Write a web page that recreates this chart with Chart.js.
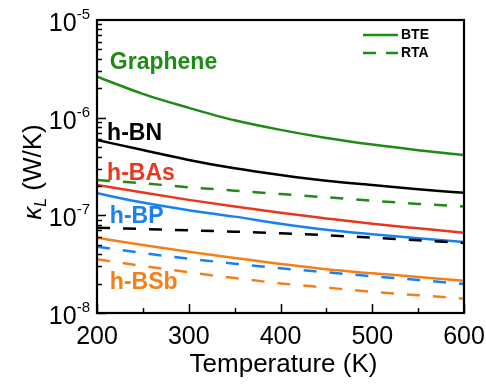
<!DOCTYPE html>
<html>
<head>
<meta charset="utf-8">
<script src="https://cdn.jsdelivr.net/npm/chart.js@4.4.1/dist/chart.umd.min.js"></script>
<style>
    html, body { margin: 0; padding: 0; background: #fff; }
</style>
</head>
<body>
<canvas id="chart" width="486" height="384"></canvas>
<script>
// Temperatures (K)
var temps = [200, 250, 300, 350, 400, 450, 500, 550, 600];

// Lattice thermal conductance (W/K), BTE = full solution, RTA = relaxation time approx.
var grapheneBTE = [2.63e-6, 1.75e-6, 1.26e-6, 9.4e-7, 7.5e-7, 6.2e-7, 5.3e-7, 4.65e-7, 4.15e-7];
var grapheneRTA = [2.3e-7, 2.13e-7, 1.94e-7, 1.79e-7, 1.65e-7, 1.53e-7, 1.41e-7, 1.31e-7, 1.23e-7];
var hBNBTE = [5.9e-7, 4.67e-7, 3.69e-7, 3.03e-7, 2.59e-7, 2.26e-7, 2.05e-7, 1.85e-7, 1.7e-7];
var hBNRTA = [7.46e-8, 7.24e-8, 7.03e-8, 6.8e-8, 6.55e-8, 6.25e-8, 5.9e-8, 5.55e-8, 5.21e-8];
var hBAsBTE = [2.05e-7, 1.71e-7, 1.44e-7, 1.23e-7, 1.06e-7, 9.3e-8, 8.2e-8, 7.36e-8, 6.64e-8];
var hBPBTE = [1.68e-7, 1.35e-7, 1.13e-7, 9.7e-8, 8.2e-8, 7.1e-8, 6.4e-8, 5.82e-8, 5.33e-8];
var hBPRTA = [4.78e-8, 4.11e-8, 3.6e-8, 3.2e-8, 2.87e-8, 2.61e-8, 2.38e-8, 2.18e-8, 1.98e-8];
var hBSbBTE = [5.9e-8, 4.97e-8, 4.24e-8, 3.66e-8, 3.18e-8, 2.8e-8, 2.55e-8, 2.34e-8, 2.14e-8];
var hBSbRTA = [3.55e-8, 3.03e-8, 2.61e-8, 2.28e-8, 2.01e-8, 1.82e-8, 1.65e-8, 1.52e-8, 1.4e-8];

// Axis ticks
var xMajor = [200, 300, 400, 500, 600];
var xMinor = [250, 350, 450, 550];
var yPowers = [-8, -7, -6, -5];

// Material labels inside the plot: [text, T, kappa]
var labels = [
    ['Graphene', 214, 3.65e-6],
    ['h-BN', 211, 6.9e-7],
    ['h-BAs', 211, 2.7e-7],
    ['h-BP', 214, 9.8e-8],
    ['h-BSb', 214, 2.05e-8]
];

var GREEN = '#1f8a14';
var BLACK = '#000000';
var RED = '#e8381c';
var BLUE = '#1a7ff0';
var ORANGE = '#f57f17';
var labelColors = [GREEN, BLACK, RED, BLUE, ORANGE];
var DASH = [13, 13];
var FONT = '"Liberation Sans", Arial, sans-serif';

function line(data, color, dashed) {
    return {
        data: data,
        borderColor: color,
        borderWidth: 2.5,
        borderDash: dashed ? DASH : [],
        pointRadius: 0,
        fill: false,
        cubicInterpolationMode: 'monotone'
    };
}

// Frame, inward ticks, tick labels, titles, legend and in-plot labels
var decorations = {
    id: 'decorations',
    afterDraw: function(chart) {
        var ctx = chart.ctx;
        var a = chart.chartArea;
        var x = chart.scales.x;
        var y = chart.scales.y;
        ctx.save();

        ctx.strokeStyle = '#000';
        ctx.lineWidth = 2.2;
        ctx.strokeRect(a.left, a.top, a.right - a.left, a.bottom - a.top);

        ctx.lineWidth = 1.5;
        ctx.beginPath();
        xMajor.forEach(function(t) {
            var px = Math.round(x.getPixelForValue(t)) + 0.5;
            ctx.moveTo(px, a.bottom); ctx.lineTo(px, a.bottom - 9);
        });
        xMinor.forEach(function(t) {
            var px = Math.round(x.getPixelForValue(t)) + 0.5;
            ctx.moveTo(px, a.bottom); ctx.lineTo(px, a.bottom - 5);
        });
        for (var p = -8; p < -5; p++) {
            for (var m = 1; m < 10; m++) {
                var py = Math.round(y.getPixelForValue(m * Math.pow(10, p))) + 0.5;
                ctx.moveTo(a.left, py); ctx.lineTo(a.left + (m === 1 ? 9 : 5), py);
            }
        }
        ctx.stroke();

        // x tick labels
        ctx.fillStyle = '#000';
        ctx.font = '25px ' + FONT;
        ctx.textAlign = 'center';
        ctx.textBaseline = 'alphabetic';
        xMajor.forEach(function(t) {
            ctx.fillText(String(t), x.getPixelForValue(t), a.bottom + 31);
        });

        // y tick labels 10^n
        yPowers.forEach(function(p) {
            var py = y.getPixelForValue(Math.pow(10, p));
            var sup = '-' + Math.abs(p);
            ctx.font = '15px ' + FONT;
            var sw = ctx.measureText(sup).width;
            var right = a.left - 7;
            ctx.textAlign = 'left';
            ctx.fillText(sup, right - sw, py - 1);
            ctx.font = '25px ' + FONT;
            ctx.textAlign = 'right';
            ctx.fillText('10', right - sw, py + 11);
        });

        // x title
        ctx.font = '26px ' + FONT;
        ctx.textAlign = 'center';
        ctx.fillText('Temperature (K)', (a.left + a.right) / 2 + 3, a.bottom + 59);

        // y title: kappa_L (W/K)
        var big = '26px ' + FONT;
        var kap = 'italic 26px ' + FONT;
        var sub = 'italic 16px ' + FONT;
        ctx.font = kap; var w1 = ctx.measureText('\u03ba').width;
        ctx.font = sub; var w2 = ctx.measureText('L').width;
        ctx.font = big; var w3 = ctx.measureText(' (W/K)').width;
        var total = w1 + w2 + w3;
        ctx.save();
        ctx.translate(41, 172 + total / 2);
        ctx.rotate(-Math.PI / 2);
        ctx.textAlign = 'left';
        ctx.font = kap; ctx.fillText('\u03ba', 0, 0);
        ctx.font = sub; ctx.fillText('L', w1, 5);
        ctx.font = big; ctx.fillText(' (W/K)', w1 + w2, 0);
        ctx.restore();

        // material labels
        ctx.font = 'bold 23px ' + FONT;
        ctx.textAlign = 'left';
        ctx.textBaseline = 'middle';
        labels.forEach(function(l, i) {
            ctx.fillStyle = labelColors[i];
            ctx.fillText(l[0], x.getPixelForValue(l[1]), y.getPixelForValue(l[2]));
        });

        // legend
        ctx.strokeStyle = GREEN;
        ctx.lineWidth = 2.5;
        ctx.beginPath(); ctx.moveTo(363, 35); ctx.lineTo(398, 35); ctx.stroke();
        ctx.setLineDash([13, 10]);
        ctx.beginPath(); ctx.moveTo(363, 53); ctx.lineTo(398, 53); ctx.stroke();
        ctx.setLineDash([]);
        ctx.fillStyle = '#000';
        ctx.font = 'bold 14px ' + FONT;
        ctx.fillText('BTE', 401, 35);
        ctx.fillText('RTA', 401, 53);

        ctx.restore();
    }
};

new Chart(document.getElementById('chart').getContext('2d'), {
    type: 'line',
    data: {
        labels: temps,
        datasets: [
            line(grapheneBTE, GREEN, false),
            line(grapheneRTA, GREEN, true),
            line(hBNBTE, BLACK, false),
            line(hBNRTA, BLACK, true),
            line(hBAsBTE, RED, false),
            line(hBPBTE, BLUE, false),
            line(hBPRTA, BLUE, true),
            line(hBSbBTE, ORANGE, false),
            line(hBSbRTA, ORANGE, true)
        ].map(function(d) {
            d.data = d.data.map(function(v, i) { return { x: temps[i], y: v }; });
            return d;
        })
    },
    options: {
        responsive: false,
        animation: false,
        layout: { padding: { left: 97, top: 20, right: 22, bottom: 71 } },
        plugins: { legend: { display: false }, tooltip: { enabled: false } },
        scales: {
            x: { type: 'linear', min: 200, max: 600, display: false },
            y: { type: 'logarithmic', min: 1e-8, max: 1e-5, display: false }
        }
    },
    plugins: [decorations]
});
</script>
</body>
</html>
